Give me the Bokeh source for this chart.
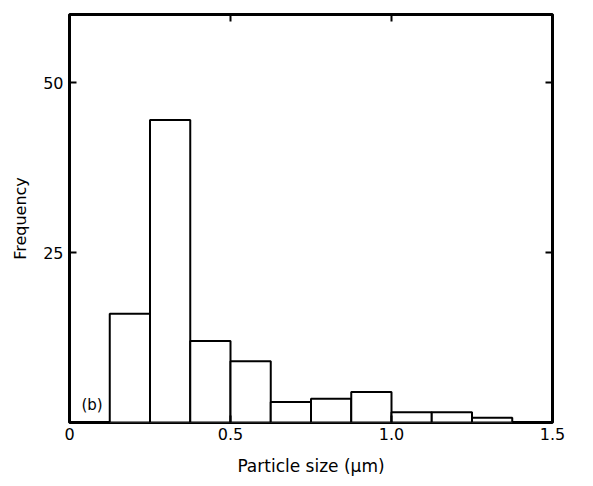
from bokeh.plotting import figure
from bokeh.models import Range1d, LinearAxis, FixedTicker, Label
from bokeh.embed import file_html
from bokeh.resources import INLINE

# Data
bin_left = [0.125, 0.25, 0.375, 0.5, 0.625, 0.75, 0.875, 1.0, 1.125, 1.25]
bin_right = [0.25, 0.375, 0.5, 0.625, 0.75, 0.875, 1.0, 1.125, 1.25, 1.375]
frequency = [16, 44.5, 12, 9, 3, 3.5, 4.5, 1.5, 1.5, 0.7]
x_ticks = [0, 0.5, 1.0, 1.5]
x_tick_labels = {0: "0", 0.5: "0.5", 1.0: "1.0", 1.5: "1.5"}
y_ticks = [25, 50]

FONT = "DejaVu Sans"

p = figure(width=585, height=478, output_backend="svg", toolbar_location=None,
           x_range=Range1d(0, 1.5), y_range=Range1d(0, 60),
           min_border_left=69, min_border_right=33, min_border_top=14, min_border_bottom=55)
p.grid.visible = False
p.background_fill_color = "white"
p.border_fill_color = "white"
p.outline_line_color = "black"
p.outline_line_width = 3

p.quad(left=bin_left, right=bin_right, bottom=0, top=frequency,
       fill_color="white", line_color="black", line_width=2)

def style(ax, labels=True):
    ax.axis_line_color = None
    ax.major_tick_in = 7
    ax.major_tick_out = 0
    ax.major_tick_line_width = 2
    ax.minor_tick_line_color = None
    ax.major_label_text_font = FONT
    ax.major_label_text_font_size = "16px"
    ax.major_label_text_color = "black"
    ax.axis_label_text_font = FONT
    ax.axis_label_text_font_style = "normal"
    ax.axis_label_text_font_size = "16px"
    ax.axis_label_text_color = "black"
    if not labels:
        ax.major_label_text_font_size = "1px"
        ax.major_label_text_alpha = 0
        ax.major_label_standoff = 0

xa = p.xaxis[0]
xa.ticker = FixedTicker(ticks=x_ticks)
xa.major_label_overrides = x_tick_labels
style(xa)
xa.major_label_standoff = 5
xa.axis_label = "Particle size (μm)"
xa.axis_label_text_font_size = "17px"
xa.axis_label_standoff = 13

ya = p.yaxis[0]
ya.ticker = FixedTicker(ticks=y_ticks)
style(ya)
ya.major_label_standoff = 6
ya.axis_label = "Frequency"
ya.axis_label_standoff = 10

top_ax = LinearAxis(ticker=FixedTicker(ticks=x_ticks))
style(top_ax, labels=False)
p.add_layout(top_ax, "above")

right_ax = LinearAxis(ticker=FixedTicker(ticks=y_ticks))
style(right_ax, labels=False)
p.add_layout(right_ax, "right")

p.add_layout(Label(x=0.07, y=2.6, text="(b)", text_align="center", text_baseline="middle",
                   text_font=FONT, text_font_size="15px", text_color="black"))

open("out.html", "w").write(file_html(p, INLINE))
